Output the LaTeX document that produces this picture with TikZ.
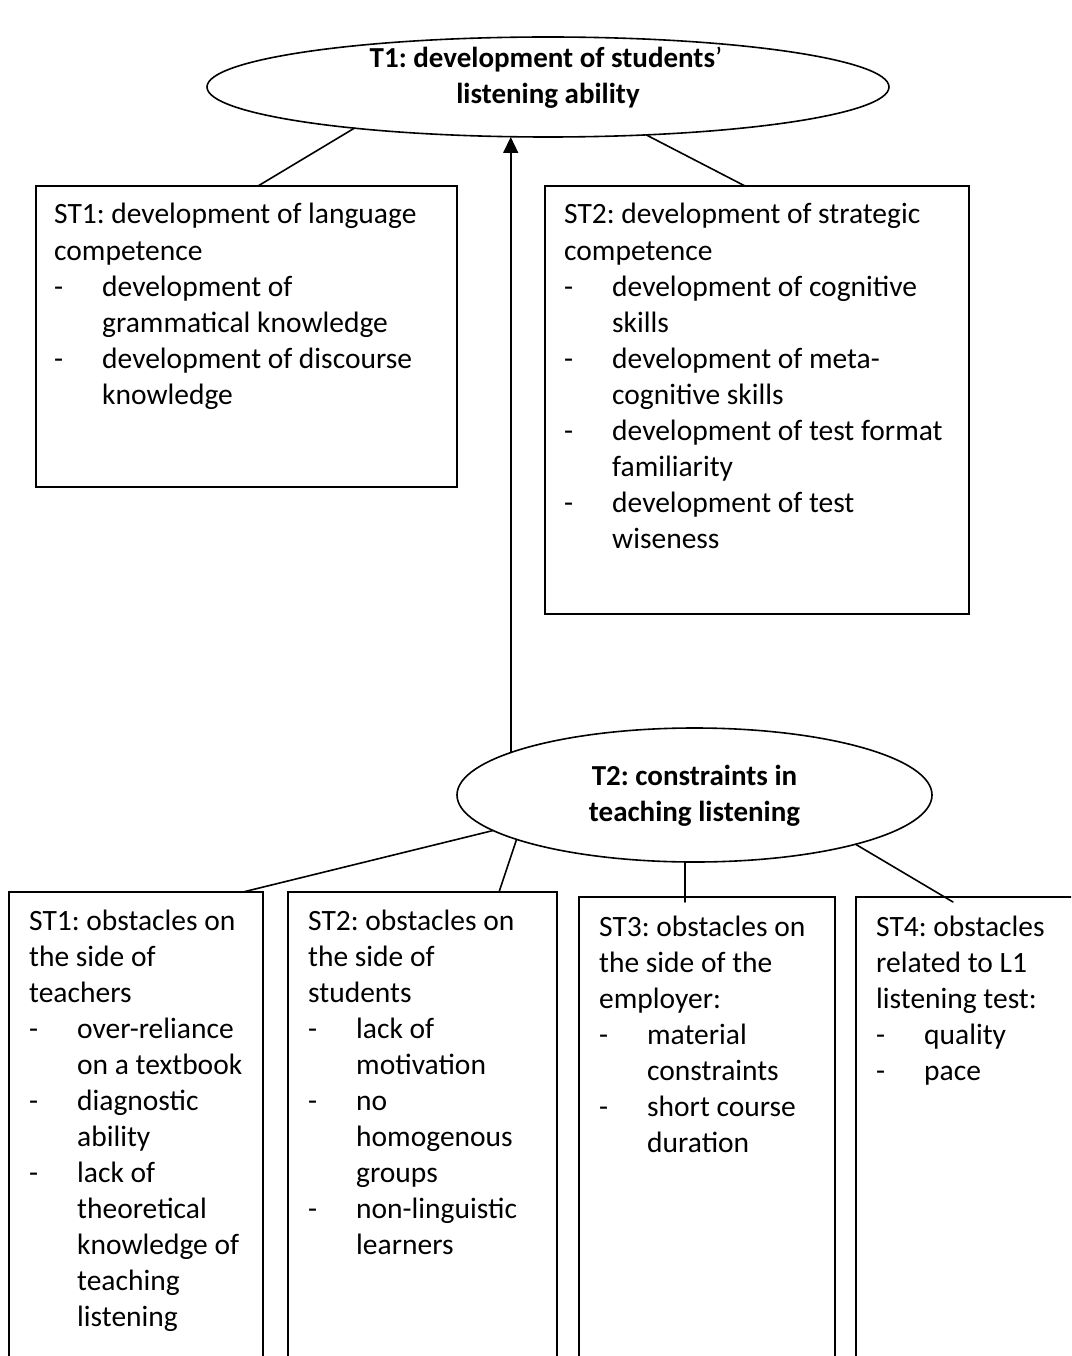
\documentclass[tikz,border=0pt]{standalone}
\usepackage{fontspec}
\setmainfont{Carlito}
\usetikzlibrary{arrows.meta,shapes.geometric}
\frenchspacing
\newcommand{\itm}[1]{\makebox[48pt][l]{-}#1}
\newcommand{\cnt}[1]{\hspace*{48pt}#1}
\tikzset{
  ln/.style={line width=1.6pt, line cap=round},
  boxshape/.style={draw, line width=1.6pt, rectangle, inner sep=0pt, outer sep=0pt, anchor=north west},
  ell/.style={draw, line width=1.6pt, ellipse, inner sep=0pt, outer sep=0pt},
  txt/.style={anchor=base west, inner sep=0pt, font=\fontsize{29.5}{36}\selectfont},
  ttl/.style={anchor=base, inner sep=0pt, font=\fontsize{29}{36}\selectfont\bfseries},
}
\begin{document}
\begin{tikzpicture}[x=1pt,y=-1pt]
\clip (0,0) rectangle (1071,1356);
\fill[white] (0,0) rectangle (1071,1356);

% ellipses
\node[ell, minimum width=682pt, minimum height=100pt] (t1) at (548,87) {};
\node[ell, minimum width=475pt, minimum height=134pt] (t2) at (694.5,795) {};
\node[ttl] (t1a) at (546,68) {T1: development of students\textmd{’}};
\node[ttl] (t1b) at (548,104) {listening ability};
\node[ttl] (t2a) at (694.5,785) {T2: constraints in};
\node[ttl] (t2b) at (694.5,821) {teaching listening};

% top boxes
\node[boxshape, minimum width=421pt, minimum height=301pt] (s1) at (36,186) {};
\node[boxshape, minimum width=424pt, minimum height=428pt] (s2) at (545,186) {};

% bottom boxes
\node[boxshape, minimum width=254pt, minimum height=520pt] (b1) at (9,892) {};
\node[boxshape, minimum width=269pt, minimum height=520pt] (b2) at (288,892) {};
\node[boxshape, minimum width=256pt, minimum height=520pt] (b3) at (579,897) {};
\node[boxshape, minimum width=260pt, minimum height=520pt] (b4) at (856,897) {};

% connectors
\draw[ln] (t1.192.4) -- ([xshift=222pt]s1.north west);
\draw[ln] (t1.334.5) -- ([xshift=200pt]s2.north west);
\draw[ln, -{Triangle[length=16pt,width=15pt]}] (t2.167.1) -- (t2.167.1 |- t1.south);
\draw[ln] (t2.190.9) -- ([xshift=234pt]b1.north west);
\draw[ln] (t2.194.4) -- ([xshift=211pt]b2.north west);
\draw[ln] (t2.south -| 685,0) -- ([xshift=106pt,yshift=-5pt]b3.north west);
\draw[ln] (t2.343.3) -- ([xshift=97pt,yshift=-5pt]b4.north west);

% text top ST1
\foreach \t [count=\i from 0] in {{ST1: development of language},{competence},{\itm{development of}},{\cnt{grammatical knowledge}},{\itm{development of discourse}},{\cnt{knowledge}}}
  \node[txt] (s1t\i) at (54,224+36*\i) {\t};
% text top ST2
\foreach \t [count=\i from 0] in {{ST2: development of strategic},{competence},{\itm{development of cognitive}},{\cnt{skills}},{\itm{development of meta-}},{\cnt{cognitive skills}},{\itm{development of test format}},{\cnt{familiarity}},{\itm{development of test}},{\cnt{wiseness}}}
  \node[txt] (s2t\i) at (564,224+36*\i) {\t};
% bottom box 1
\foreach \t [count=\i from 0] in {{ST1: obstacles on},{the side of},{teachers},{\itm{over-reliance}},{\cnt{on a textbook}},{\itm{diagnostic}},{\cnt{ability}},{\itm{lack of}},{\cnt{theoretical}},{\cnt{knowledge of}},{\cnt{teaching}},{\cnt{listening}}}
  \node[txt] (b1t\i) at (29,930+36*\i) {\t};
% bottom box 2
\foreach \t [count=\i from 0] in {{ST2: obstacles on},{the side of},{students},{\itm{lack of}},{\cnt{motivation}},{\itm{no}},{\cnt{homogenous}},{\cnt{groups}},{\itm{non-linguistic}},{\cnt{learners}}}
  \node[txt] (b2t\i) at (308,930+36*\i) {\t};
% bottom box 3
\foreach \t [count=\i from 0] in {{ST3: obstacles on},{the side of the},{employer:},{\itm{material}},{\cnt{constraints}},{\itm{short course}},{\cnt{duration}}}
  \node[txt] (b3t\i) at (599,936+36*\i) {\t};
% bottom box 4
\foreach \t [count=\i from 0] in {{ST4: obstacles},{related to L1},{listening test:},{\itm{quality}},{\itm{pace}}}
  \node[txt] (b4t\i) at (876,936+36*\i) {\t};
\end{tikzpicture}
\end{document}
